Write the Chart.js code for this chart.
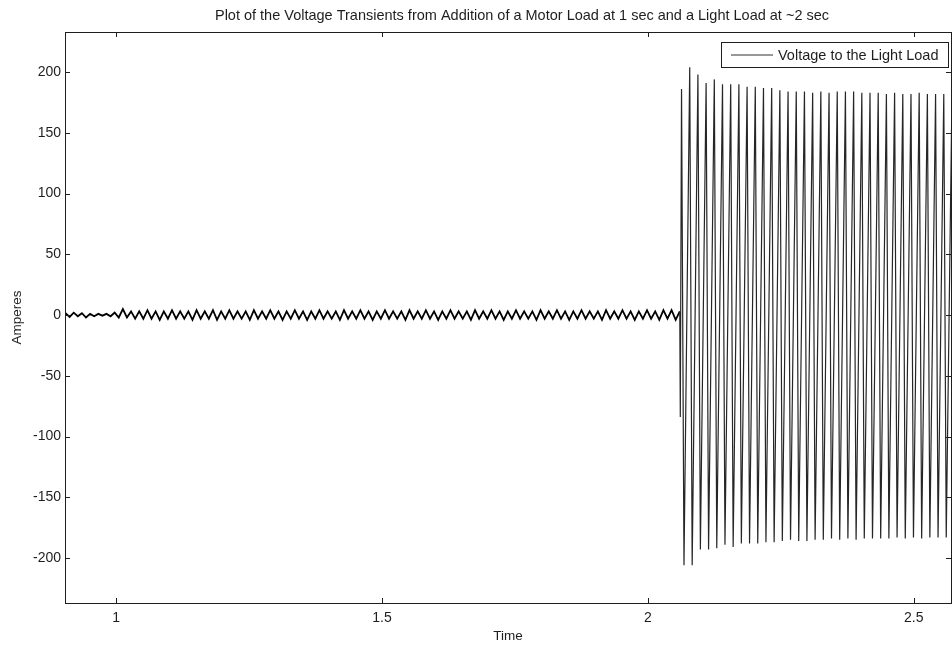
<!DOCTYPE html>
<html lang="en">
<head>
  <meta charset="UTF-8" />
  <title>Voltage Transients</title>
  <script src="https://cdn.jsdelivr.net/npm/chart.js"></script>
  <style>
    body {
      margin: 0;
      background: #fff;
    }

    .wrap {
      width: 952px;
      height: 647px;
      position: relative;
    }
  </style>
</head>
<body>

  <div class="wrap">
    <canvas id="transients"></canvas>
  </div>

  <script>
    const chartTitle = 'Plot of the Voltage Transients from Addition of a Motor Load at 1 sec and a Light Load at ~2 sec';
    const seriesLabel = 'Voltage to the Light Load';
    const xTitle = 'Time';
    const yTitle = 'Amperes';

    const xTicks = [1, 1.5, 2, 2.5];
    const yTicks = [-200, -150, -100, -50, 0, 50, 100, 150, 200];

    // small ripple before the light load comes on (one value per half cycle)
    const rippleStart = 0.905;
    const rippleStep = 0.0077;
    const rippleValues = [
      1.5, -1.5, 2, -1, 1.5, -2, 1, -1, 1, -0.5,
      1, -1, 2, -2, 5, -2, 3, -3, 3, -3,
      4, -3, 3, -4, 3, -3, 4, -3, 3, -3,
      3, -4, 4, -3, 3, -3, 4, -4, 3, -3,
      4, -3, 3, -3, 3, -4, 4, -3, 3, -3,
      4, -3, 3, -4, 3, -3, 4, -3, 3, -4,
      3, -3, 4, -3, 3, -3, 3, -4, 4, -3,
      3, -3, 4, -3, 3, -4, 3, -3, 4, -3,
      3, -3, 3, -4, 4, -3, 3, -3, 4, -3,
      3, -4, 3, -3, 4, -3, 3, -3, 3, -4,
      4, -3, 3, -3, 4, -3, 3, -4, 3, -3,
      4, -3, 3, -3, 3, -4, 4, -3, 3, -3,
      4, -3, 3, -4, 3, -3, 4, -3, 3, -3,
      3, -4, 4, -3, 3, -3, 4, -3, 3, -4,
      3, -3, 4, -3, 3, -4, 4, -3, 4, -4,
      3
    ];

    // switching instant
    const switchTime = 2.061;
    const switchValue = -84;

    // large oscillation after the light load: peaks per cycle
    const burstStart = 2.0633;
    const burstPeriod = 0.01541;
    const lowOffset = 0.3; // fraction of a cycle from high peak to low peak
    const highPeaks = [
      186, 204, 198, 191, 194, 190, 190, 190, 188, 188, 187, 187,
      185, 184, 184, 184, 183, 184, 183, 184, 184, 184, 183, 183,
      183, 182, 183, 182, 182, 183, 182, 182, 182, 182
    ];
    const lowPeaks = [
      -206, -206, -193, -193, -192, -189, -191, -188, -188, -188, -187,
      -187, -186, -185, -186, -186, -185, -185, -184, -185, -184, -185,
      -184, -184, -184, -184, -183, -184, -183, -184, -183, -183, -183
    ];

    const points = [];
    rippleValues.forEach((v, i) => points.push({ x: rippleStart + i * rippleStep, y: v }));
    points.push({ x: switchTime, y: switchValue });
    highPeaks.forEach((v, i) => {
      const t = burstStart + i * burstPeriod;
      points.push({ x: t, y: v });
      if (i < lowPeaks.length) points.push({ x: t + burstPeriod * lowOffset, y: lowPeaks[i] });
    });

    const FONT = "'Liberation Sans', Arial, sans-serif";
    const INK = '#1e1e1e';

    // MATLAB-ish look: box, inward ticks, boxed legend, titles
    const matlabAxes = {
      id: 'matlabAxes',
      afterDraw(chart) {
        const { ctx, chartArea: a, scales } = chart;
        ctx.save();
        ctx.strokeStyle = INK;
        ctx.lineWidth = 1;
        ctx.strokeRect(Math.round(a.left) + 0.5, Math.round(a.top) + 0.5,
          Math.round(a.right - a.left), Math.round(a.bottom - a.top));

        const tl = 5;
        ctx.beginPath();
        xTicks.forEach(v => {
          const x = Math.round(scales.x.getPixelForValue(v)) + 0.5;
          ctx.moveTo(x, a.bottom); ctx.lineTo(x, a.bottom - tl);
          ctx.moveTo(x, a.top); ctx.lineTo(x, a.top + tl);
        });
        yTicks.forEach(v => {
          const y = Math.round(scales.y.getPixelForValue(v)) + 0.5;
          ctx.moveTo(a.left, y); ctx.lineTo(a.left + tl, y);
          ctx.moveTo(a.right, y); ctx.lineTo(a.right - tl, y);
        });
        ctx.stroke();

        // legend box
        const lx = 721.5, ly = 42.5, lw = 227, lh = 25;
        ctx.fillStyle = '#fff';
        ctx.fillRect(lx, ly, lw, lh);
        ctx.strokeRect(lx, ly, lw, lh);
        ctx.beginPath();
        ctx.strokeStyle = '#333';
        ctx.moveTo(731, ly + lh / 2);
        ctx.lineTo(773, ly + lh / 2);
        ctx.stroke();
        ctx.fillStyle = INK;
        ctx.font = '14.5px ' + FONT;
        ctx.textBaseline = 'middle';
        ctx.textAlign = 'left';
        ctx.fillText(chart.data.datasets[0].label, 778, ly + lh / 2 + 1);

        // titles
        ctx.textAlign = 'center';
        ctx.font = '14.5px ' + FONT;
        ctx.fillText(chartTitle, 522, 16);
        ctx.font = '13.5px ' + FONT;
        ctx.fillText(xTitle, (a.left + a.right) / 2, 636);
        ctx.translate(17, (a.top + a.bottom) / 2);
        ctx.rotate(-Math.PI / 2);
        ctx.fillText(yTitle, 0, 0);
        ctx.restore();
      }
    };

    new Chart(document.getElementById('transients'), {
      type: 'line',
      data: {
        datasets: [{
          label: seriesLabel,
          data: points,
          borderColor: '#262626',
          borderWidth: 1.2,
          pointRadius: 0,
          tension: 0,
          fill: false,
          segment: {
            borderWidth: c => (c.p1.parsed.x < switchTime ? 1.8 : 1.2),
            borderColor: c => (c.p1.parsed.x < switchTime ? '#000' : '#262626')
          }
        }]
      },
      options: {
        responsive: true,
        maintainAspectRatio: false,
        animation: false,
        layout: { padding: { top: 32, left: 0, right: 1, bottom: 0 } },
        plugins: {
          legend: { display: false },
          title: { display: false },
          tooltip: { enabled: false }
        },
        scales: {
          x: {
            type: 'linear',
            min: 0.904,
            max: 2.57,
            afterBuildTicks: s => { s.ticks = xTicks.map(v => ({ value: v })); },
            afterFit: s => { s.height = 44; },
            grid: { display: false, drawTicks: false },
            border: { display: false },
            ticks: {
              autoSkip: false,
              maxRotation: 0,
              padding: 7,
              color: INK,
              font: { family: FONT, size: 14 },
              callback: v => String(v)
            }
          },
          y: {
            min: -237,
            max: 233,
            afterBuildTicks: s => { s.ticks = yTicks.map(v => ({ value: v })); },
            afterFit: s => { s.width = 65; },
            grid: { display: false, drawTicks: false },
            border: { display: false },
            ticks: {
              autoSkip: false,
              padding: 4,
              color: INK,
              font: { family: FONT, size: 14 },
              callback: v => String(v)
            }
          }
        }
      },
      plugins: [matlabAxes]
    });
  </script>
</body>
</html>
